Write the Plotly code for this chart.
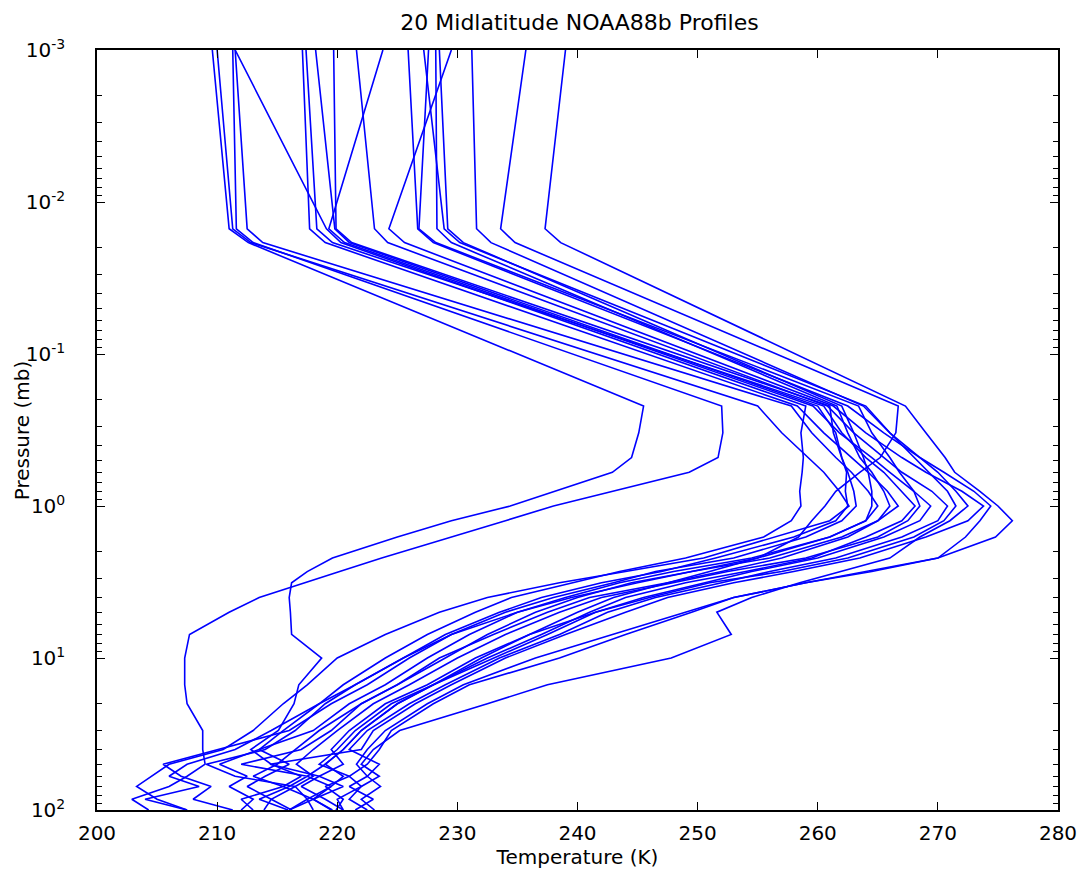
import plotly.graph_objects as go

# Pressure levels (mb)
levels = [0.001, 0.015, 0.0185, 0.22, 0.33, 0.48, 0.6, 0.8, 1.0, 1.25, 1.6, 2.2, 2.7,
          3.2, 4.0, 5.0, 7.0, 10, 15, 20, 30, 40, 50, 60, 70, 85, 100]

# Temperature profiles (K), one value per pressure level
p01 = [209.6, 211.0, 212.6, 245.5, 245.1, 244.5, 242.9, 238.2, 234.4, 229.5, 225.0, 219.6, 217.5,
       216.2, 216.0, 216.1, 216.2, 218.7, 216.8, 216.4, 215.1, 212.8, 214.5, 217.0, 215.5, 218.0, 216.0]
p02 = [210.0, 211.3, 212.8, 255.0, 257.0, 259.2, 260.5, 261.8, 262.6, 261.0, 256.5, 250.5, 244.0,
       238.5, 232.5, 228.5, 224.0, 220.0, 217.5, 215.5, 213.0, 210.5, 206.0, 204.5, 203.3, 205.0, 207.5]
p03 = [211.3, 211.6, 213.0, 252.0, 252.1, 251.7, 249.3, 243.0, 238.0, 234.0, 229.5, 223.7, 220.2,
       217.3, 213.5, 211.0, 207.7, 207.3, 207.3, 207.5, 208.8, 208.8, 209.0, 207.5, 206.0, 202.9, 204.3]
p04 = [211.5, 212.5, 213.8, 257.8, 259.5, 261.5, 262.8, 264.2, 265.0, 264.0, 261.0, 255.0, 249.5,
       245.0, 239.5, 235.0, 229.5, 225.5, 221.5, 218.5, 214.5, 211.5, 207.5, 206.0, 208.5, 204.0, 207.5]
p05 = [211.5, 219.1, 220.3, 259.0, 258.6, 258.8, 258.7, 258.5, 258.6, 257.8, 255.5, 249.0, 243.5,
       239.5, 234.5, 231.5, 227.5, 224.0, 220.5, 218.5, 215.5, 213.5, 216.0, 214.0, 212.5, 214.5, 216.2]
p06 = [217.1, 217.7, 219.0, 258.3, 260.5, 262.8, 264.2, 265.8, 266.7, 265.0, 262.5, 257.0, 252.0,
       247.5, 241.0, 237.5, 233.0, 228.5, 225.0, 222.0, 219.5, 217.0, 212.0, 217.5, 216.0, 213.5, 215.9]
p07 = [217.4, 218.3, 219.6, 260.5, 262.0, 264.0, 265.5, 267.0, 268.1, 267.0, 264.0, 259.5, 254.0,
       249.0, 244.0, 241.0, 237.0, 232.5, 228.0, 224.5, 221.5, 220.0, 218.5, 221.0, 219.0, 220.5, 219.9]
p08 = [218.2, 219.8, 221.0, 260.0, 261.5, 262.0, 262.5, 263.0, 263.2, 262.0, 259.0, 253.0, 246.5,
       243.0, 238.0, 234.0, 229.5, 226.0, 222.5, 219.5, 216.0, 210.0, 205.5, 207.0, 209.5, 208.0, 211.3]
p09 = [219.7, 219.9, 221.2, 261.0, 261.3, 262.0, 262.4, 262.3, 262.5, 261.5, 258.0, 251.5, 247.0,
       242.0, 237.0, 233.5, 229.0, 225.5, 221.5, 219.0, 216.5, 214.0, 209.1, 211.5, 216.5, 214.5, 213.9]
p10 = [223.8, 219.3, 220.6, 259.6, 261.8, 264.5, 266.0, 268.0, 269.4, 268.5, 265.5, 260.0, 254.5,
       250.5, 245.5, 241.5, 236.0, 231.5, 227.5, 224.0, 221.0, 219.5, 220.5, 218.5, 217.0, 219.0, 220.5]
p11 = [221.6, 223.1, 224.2, 260.8, 263.0, 265.5, 267.0, 269.5, 270.8, 270.0, 267.0, 261.5, 256.0,
       252.0, 246.5, 242.5, 238.5, 233.5, 229.0, 226.0, 222.5, 221.0, 223.5, 222.5, 221.0, 223.0, 221.5]
p12 = [229.5, 224.3, 225.6, 261.3, 264.0, 267.0, 269.0, 272.0, 273.8, 272.5, 269.0, 263.5, 258.0,
       253.0, 247.5, 244.0, 239.0, 234.0, 229.5, 226.5, 223.0, 222.0, 214.4, 218.5, 220.5, 218.0, 219.6]
p13 = [225.9, 226.7, 228.0, 262.5, 265.5, 268.5, 270.5, 273.0, 274.4, 273.5, 272.3, 270.0, 264.0,
       259.0, 253.0, 249.0, 243.0, 236.5, 230.5, 227.5, 224.0, 222.5, 221.6, 222.5, 223.6, 222.0, 223.1]
p14 = [227.6, 226.8, 228.2, 263.4, 264.5, 266.0, 266.8, 268.0, 268.5, 267.5, 265.0, 259.0, 252.5,
       248.0, 242.0, 238.5, 234.0, 230.0, 226.0, 223.0, 220.0, 218.0, 216.6, 218.0, 216.5, 217.5, 216.0]
p15 = [227.2, 228.9, 230.2, 264.0, 266.0, 268.0, 269.2, 270.8, 271.5, 270.5, 268.0, 262.5, 257.0,
       251.0, 246.0, 241.5, 237.5, 233.0, 228.0, 225.0, 222.0, 220.5, 219.0, 220.5, 219.5, 217.5, 218.0]
p16 = [228.2, 228.3, 229.5, 261.6, 262.5, 263.5, 264.5, 265.5, 266.0, 265.0, 262.0, 256.0, 249.5,
       244.5, 240.0, 236.5, 232.5, 229.0, 225.0, 222.0, 218.5, 216.5, 215.0, 213.0, 215.5, 212.0, 213.0]
p17 = [231.2, 231.6, 232.8, 263.8, 266.0, 268.5, 270.0, 271.5, 272.5, 271.0, 268.5, 266.0, 262.0,
       258.5, 254.5, 251.6, 252.8, 247.8, 237.5, 232.5, 225.2, 223.0, 222.0, 223.5, 222.0, 221.0, 222.5]
p18 = [228.5, 229.2, 230.5, 262.0, 263.0, 263.8, 264.2, 264.5, 264.5, 264.0, 261.0, 254.5, 248.0,
       243.5, 239.0, 235.0, 231.0, 227.5, 224.0, 221.0, 218.0, 213.5, 210.2, 212.5, 211.0, 213.0, 212.0]
p19 = [235.7, 233.6, 234.8, 266.7, 266.5, 265.2, 263.5, 261.5, 260.6, 259.5, 258.4, 255.0, 251.0,
       247.5, 243.0, 240.0, 236.0, 232.0, 228.0, 225.0, 222.0, 220.5, 219.0, 217.5, 219.5, 218.0, 219.5]
p20 = [239.0, 237.3, 238.6, 267.3, 269.0, 270.6, 271.4, 273.5, 275.0, 276.2, 274.8, 270.0, 264.5,
       259.0, 253.0, 249.5, 244.0, 238.5, 231.0, 228.0, 224.5, 223.5, 222.5, 221.0, 222.0, 220.0, 220.5]

profiles = [p01, p02, p03, p04, p05, p06, p07, p08, p09, p10,
            p11, p12, p13, p14, p15, p16, p17, p18, p19, p20]

x_ticks = [200, 210, 220, 230, 240, 250, 260, 270, 280]
y_ticks = [1e-3, 1e-2, 1e-1, 1e0, 1e1, 1e2]
y_ticktext = ["10<sup>-3</sup>", "10<sup>-2</sup>", "10<sup>-1</sup>",
              "10<sup>0</sup>", "10<sup>1</sup>", "10<sup>2</sup>"]
y_minor = [m * d for d in [1e-3, 1e-2, 1e-1, 1e0, 1e1] for m in range(2, 10)]

FONT = "DejaVu Sans"

fig = go.Figure()
for prof in profiles:
    fig.add_trace(go.Scatter(x=prof, y=levels, mode="lines",
                             line=dict(color="#0000FF", width=1.6),
                             showlegend=False, hoverinfo="skip"))

fig.update_layout(
    width=1089, height=884,
    margin=dict(l=97, r=27, t=50, b=74),
    paper_bgcolor="white", plot_bgcolor="white",
    font=dict(family=FONT, size=20, color="black"),
    title=dict(text="20 Midlatitude NOAA88b Profiles", x=579.5 / 1089, xanchor="center",
               y=1 - 22 / 884, yanchor="middle", font=dict(family=FONT, size=22, color="black")),
    xaxis=dict(range=[200, 280], tickmode="array", tickvals=x_ticks,
               ticks="inside", ticklen=8, tickwidth=1.2, tickcolor="black",
               showline=True, linecolor="black", linewidth=1.5, mirror="ticks",
               showgrid=False, zeroline=False, ticklabelstandoff=4,
               tickfont=dict(family=FONT, size=20, color="black"),
               title=dict(text="Temperature (K)", standoff=4,
                          font=dict(family=FONT, size=20, color="black"))),
    yaxis=dict(type="log", range=[2, -3], tickmode="array", tickvals=y_ticks,
               ticktext=y_ticktext,
               ticks="inside", ticklen=8, tickwidth=1.2, tickcolor="black",
               showline=True, linecolor="black", linewidth=1.5, mirror="ticks",
               showgrid=False, zeroline=False, ticklabelstandoff=26,
               minor=dict(tickmode="array", tickvals=y_minor, ticks="inside",
                          ticklen=5, tickwidth=1, tickcolor="black", showgrid=False),
               tickfont=dict(family=FONT, size=20, color="black")),
    annotations=[dict(text="Pressure (mb)", textangle=-90, xref="paper", yref="paper",
                      x=(22 - 97) / 965, y=0.5, xanchor="center", yanchor="middle",
                      showarrow=False, font=dict(family=FONT, size=20, color="black"))],
)

fig.write_html("out.html")
